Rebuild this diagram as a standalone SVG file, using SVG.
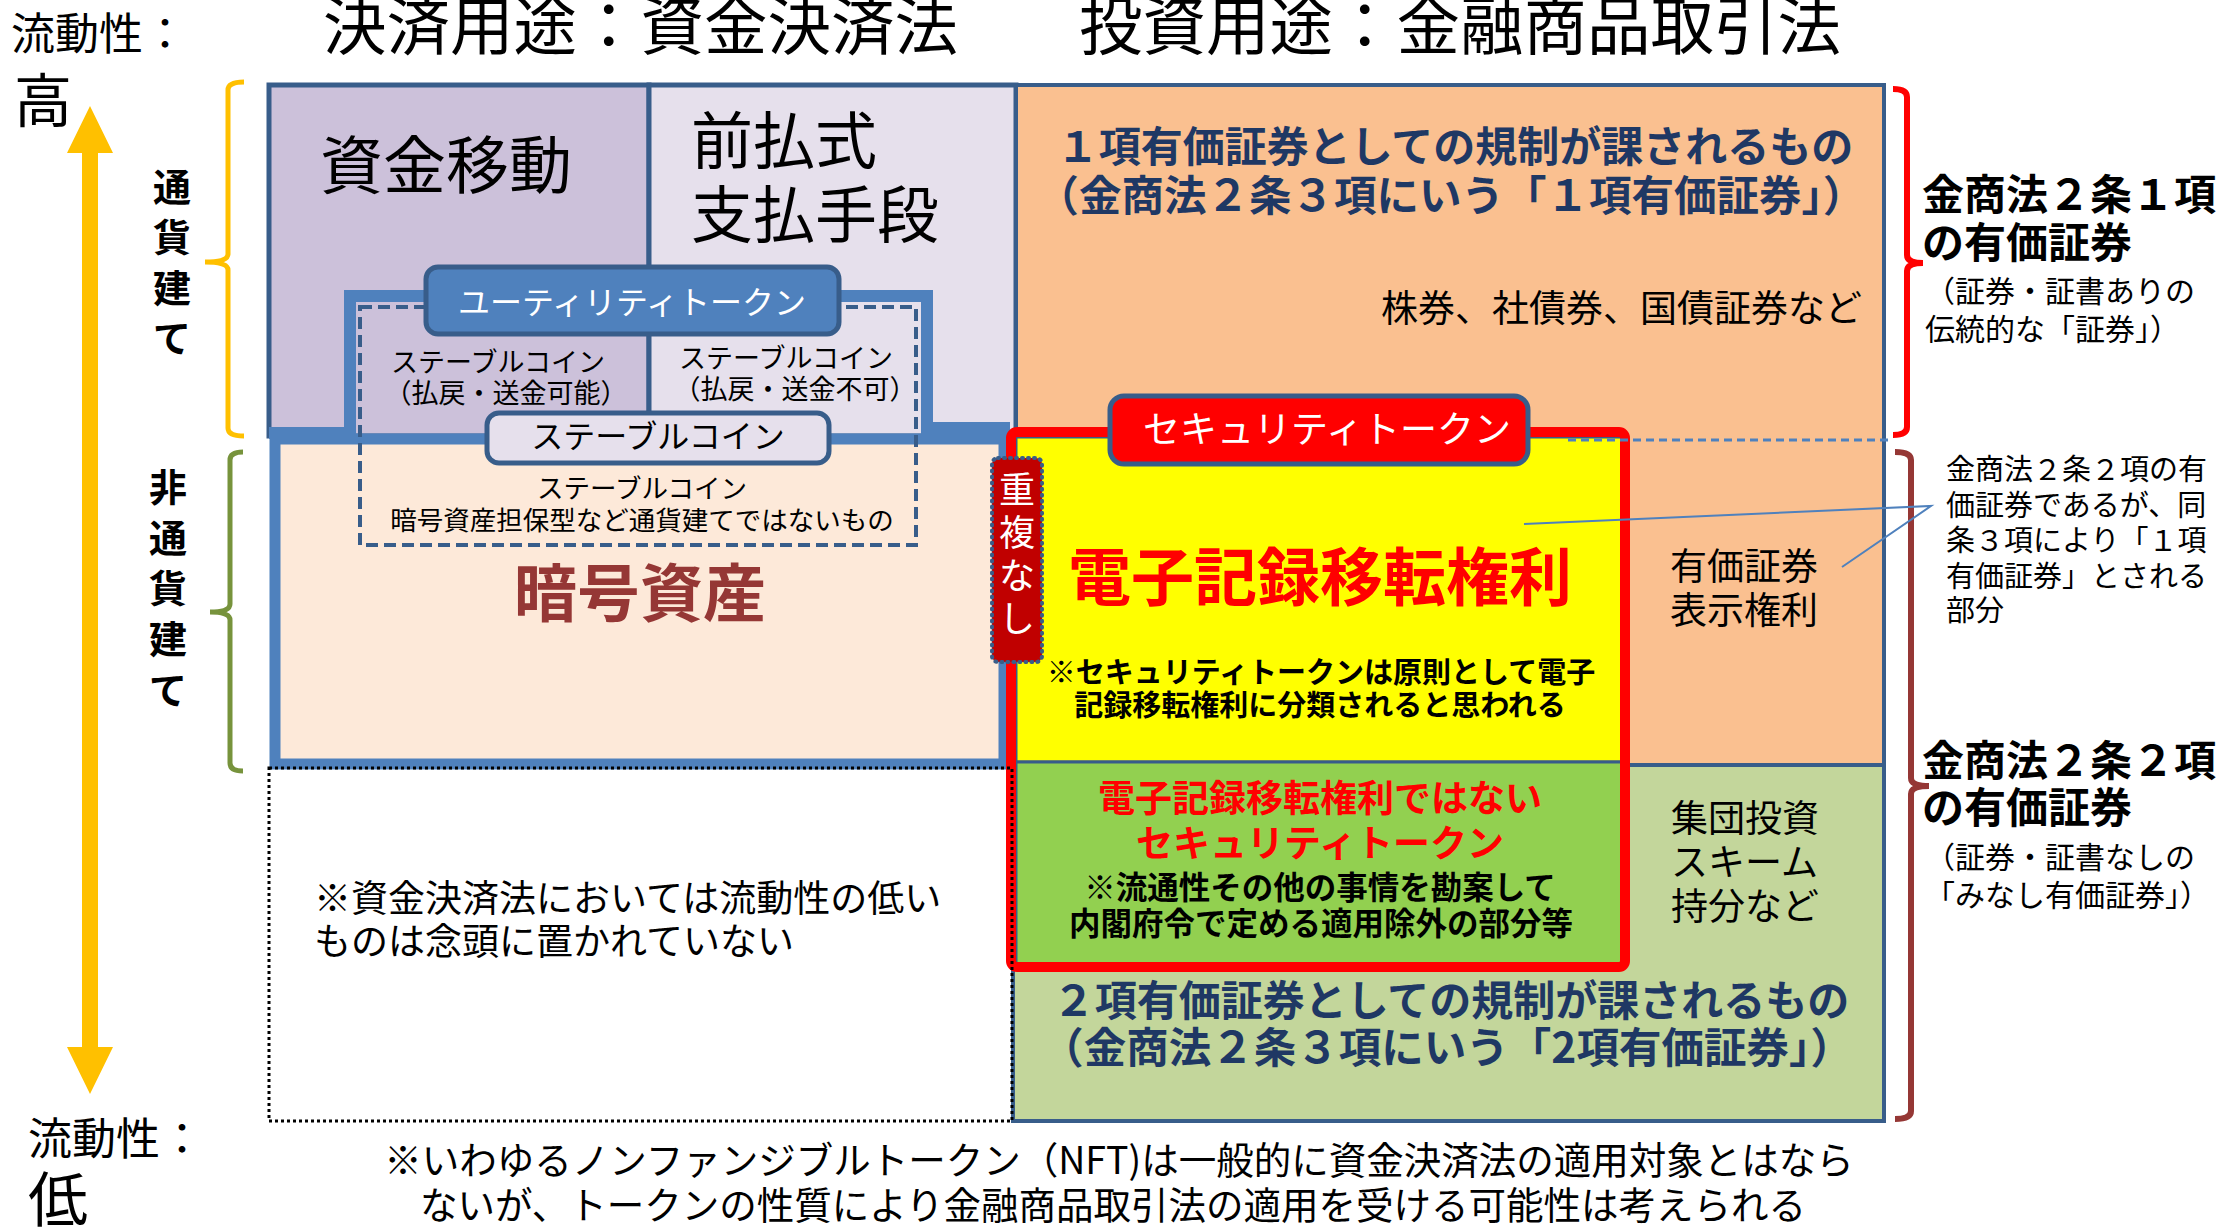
<svg xmlns="http://www.w3.org/2000/svg" width="2221" height="1227" viewBox="0 0 2221 1227">
<style>
text { font-family: "Noto Sans CJK JP", "Noto Sans", sans-serif; fill: #000; }
.b { font-weight: 700; }
.c { text-anchor: middle; }
.e { text-anchor: end; }
.w { fill: #fff; }
.navy { fill: #1F3864; }
.red { fill: #FF0000; }
</style>
<rect width="2221" height="1227" fill="#fff"/>

<g id="axis">
  <polygon points="90,106 113,153 98,153 98,1047 113,1047 90,1094 67,1047 82,1047 82,153 67,153" fill="#FFC000"/>
  <text x="11" y="50" font-size="44">流動性：</text>
  <text x="14" y="122" font-size="58">高</text>
  <text x="28" y="1155" font-size="44">流動性：</text>
  <text x="28" y="1222" font-size="60">低</text>
</g>

<g id="titles">
  <text x="323" y="49" font-size="63.5">決済用途：資金決済法</text>
  <text x="1079" y="49" font-size="63.5">投資用途：金融商品取引法</text>
</g>

<g id="currency-bracket">
  <path d="M244,82 Q228,82 228,90 L228,254 Q228,262 205,262 Q228,262 228,270 L228,428 Q228,436 244,436" fill="none" stroke="#FFC000" stroke-width="5"/>
  <text class="b c" font-size="38"><tspan x="172" y="201">通</tspan><tspan x="172" y="251">貨</tspan><tspan x="172" y="302">建</tspan><tspan x="172" y="352">て</tspan></text>
</g>
<g id="noncurrency-bracket">
  <path d="M243,452 Q230,452 230,460 L230,604 Q230,612 210,612 Q230,612 230,620 L230,763 Q230,771 243,771" fill="none" stroke="#77933C" stroke-width="5"/>
  <text class="b c" font-size="38"><tspan x="168" y="501">非</tspan><tspan x="168" y="552">通</tspan><tspan x="168" y="602">貨</tspan><tspan x="168" y="653">建</tspan><tspan x="168" y="704">て</tspan></text>
</g>

<g id="fund-transfer">
  <rect x="269" y="85" width="380" height="351" fill="#CCC1DA" stroke="#385D8A" stroke-width="5"/>
  <text x="320" y="188" font-size="63">資金移動</text>
</g>
<g id="prepaid">
  <rect x="649" y="85" width="367" height="351" fill="#E6E0EC" stroke="#385D8A" stroke-width="5"/>
  <text x="691" y="164" font-size="62">前払式</text>
  <text x="691" y="238" font-size="62">支払手段</text>
</g>
<g id="security-1">
  <rect x="1016" y="85" width="868" height="680" fill="#FAC090" stroke="#385D8A" stroke-width="4"/>
  <text class="b c navy" x="1455" y="162" font-size="42">１項有価証券としての規制が課されるもの</text>
  <text class="b c navy" x="1451" y="211" font-size="42.5">（金商法２条３項にいう「１項有価証券」）</text>
  <text class="e" x="1862" y="322" font-size="37">株券、社債券、国債証券など</text>
  <text x="1670" y="580" font-size="37">有価証券</text>
  <text x="1670" y="624" font-size="37">表示権利</text>
</g>
<g id="security-2">
  <rect x="1013" y="765" width="871" height="356" fill="#C3D69B" stroke="#385D8A" stroke-width="4"/>
  <text class="b c navy" x="1451" y="1016" font-size="42">２項有価証券としての規制が課されるもの</text>
  <text class="b c navy" x="1447" y="1063" font-size="42.5">（金商法２条３項にいう「2項有価証券」）</text>
  <text x="1671" y="832" font-size="37">集団投資</text>
  <text x="1671" y="876" font-size="37">スキーム</text>
  <text x="1671" y="920" font-size="37">持分など</text>
</g>

<g id="crypto-asset">
  <rect x="275" y="439" width="729" height="325" fill="#FDE9D9" stroke="#4F81BD" stroke-width="11"/>
  <text class="b c" x="640" y="616" font-size="63" style="fill:#953735">暗号資産</text>
</g>

<g id="utility-token">
  <polyline points="269,433 350,433 350,296 927,296 927,428 1010,428" fill="none" stroke="#4F81BD" stroke-width="12"/>
</g>

<g id="stablecoin">
  <rect x="360" y="307" width="556" height="238" fill="none" stroke="#385D8A" stroke-width="4" stroke-dasharray="12 6"/>
  <text class="c" x="498" y="372" font-size="27">ステーブルコイン</text>
  <text class="c" x="506" y="403" font-size="27">（払戻・送金可能）</text>
  <text class="c" x="786" y="368" font-size="27">ステーブルコイン</text>
  <text class="c" x="795" y="399" font-size="27">（払戻・送金不可）</text>
  <text class="c" x="642" y="498" font-size="26.5">ステーブルコイン</text>
  <text class="c" x="642" y="530" font-size="26.5">暗号資産担保型など通貨建てではないもの</text>
</g>

<g id="utility-label">
  <rect x="426" y="267" width="413" height="67" rx="12" fill="#4F81BD" stroke="#385D8A" stroke-width="5"/>
  <text class="c w" x="632" y="314" font-size="32">ユーティリティトークン</text>
</g>
<g id="stablecoin-label">
  <rect x="487" y="413" width="342" height="50" rx="12" fill="#E6E0EC" stroke="#385D8A" stroke-width="5"/>
  <text class="c" x="658" y="448" font-size="32">ステーブルコイン</text>
</g>

<g id="etr">
  <rect x="1016" y="437" width="606" height="325" fill="#FFFF00" stroke="#385D8A" stroke-width="3"/>
  <text class="b c red" x="1320" y="600" font-size="63">電子記録移転権利</text>
  <text class="b c" x="1321" y="683" font-size="29">※セキュリティトークンは原則として電子</text>
  <text class="b c" x="1320" y="716" font-size="29">記録移転権利に分類されると思われる</text>
</g>
<g id="non-etr">
  <rect x="1016" y="762" width="606" height="202" fill="#92D050" stroke="#385D8A" stroke-width="3"/>
  <text class="b c red" x="1320" y="812" font-size="37">電子記録移転権利ではない</text>
  <text class="b c red" x="1320" y="857" font-size="37">セキュリティトークン</text>
  <text class="b c" x="1320" y="899" font-size="31.5">※流通性その他の事情を勘案して</text>
  <text class="b c" x="1321" y="935" font-size="31.5">内閣府令で定める適用除外の部分等</text>
</g>
<g id="security-token">
  <rect x="1011" y="432" width="614" height="535" rx="6" fill="none" stroke="#FF0000" stroke-width="10"/>
  <rect x="1110" y="396" width="418" height="68" rx="14" fill="#FF0000" stroke="#385D8A" stroke-width="5"/>
  <text class="c w" x="1327" y="443" font-size="37">セキュリティトークン</text>
</g>

<g id="low-liquidity">
  <rect x="269" y="768" width="743" height="353" fill="none" stroke="#000" stroke-width="3" stroke-dasharray="3 3"/>
  <text x="314" y="912" font-size="37">※資金決済法においては流動性の低い</text>
  <text x="314" y="955" font-size="37">ものは念頭に置かれていない</text>
</g>

<g id="no-overlap">
  <rect x="992" y="458" width="50" height="204" rx="6" fill="#C00000" stroke="#385D8A" stroke-width="4" stroke-dasharray="1 5" stroke-linecap="round"/>
  <text class="c w" font-size="36"><tspan x="1017" y="503">重</tspan><tspan x="1017" y="546">複</tspan><tspan x="1017" y="589">な</tspan><tspan x="1017" y="632">し</tspan></text>
</g>

<g id="article2-1">
  <path d="M1893,89 Q1907,89 1907,97 L1907,255 Q1907,263 1923,263 Q1907,263 1907,271 L1907,427 Q1907,435 1893,435" fill="none" stroke="#FF0000" stroke-width="6"/>
  <text class="b" x="1922" y="210" font-size="42">金商法２条１項</text>
  <text class="b" x="1922" y="258" font-size="42">の有価証券</text>
  <text x="1925" y="302" font-size="30">（証券・証書ありの</text>
  <text x="1925" y="340" font-size="30">伝統的な「証券」）</text>
</g>
<g id="article2-2">
  <path d="M1895,452 Q1911,452 1911,460 L1911,778 Q1911,786 1929,786 Q1911,786 1911,794 L1911,1111 Q1911,1119 1895,1119" fill="none" stroke="#953735" stroke-width="6"/>
  <text class="b" x="1922" y="776" font-size="42">金商法２条２項</text>
  <text class="b" x="1922" y="823" font-size="42">の有価証券</text>
  <text x="1925" y="868" font-size="30">（証券・証書なしの</text>
  <text x="1925" y="906" font-size="30">「みなし有価証券」）</text>
</g>
<g id="callout-note">
  <text x="1946" y="480" font-size="29">金商法２条２項の有</text>
  <text x="1946" y="516" font-size="29">価証券であるが、同</text>
  <text x="1946" y="551" font-size="29">条３項により「１項</text>
  <text x="1946" y="587" font-size="29">有価証券」とされる</text>
  <text x="1946" y="621" font-size="29">部分</text>
</g>

<g id="connectors">
  <line x1="1568" y1="440" x2="1888" y2="440" stroke="#4F81BD" stroke-width="3" stroke-dasharray="8 5"/>
  <polyline points="1524,524 1931,506 1842,567" fill="none" stroke="#4F81BD" stroke-width="2"/>
</g>

<g id="footnote">
  <text class="c" x="1119" y="1174" font-size="37.5">※いわゆるノンファンジブルトークン（NFT)は一般的に資金決済法の適用対象とはなら</text>
  <text class="c" x="1113" y="1219" font-size="37.5">ないが、トークンの性質により金融商品取引法の適用を受ける可能性は考えられる</text>
</g>
</svg>
